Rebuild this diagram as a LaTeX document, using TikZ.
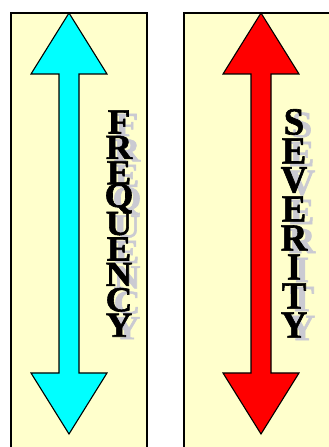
\documentclass[tikz,border=0pt]{standalone}
\usepackage{fontspec}
\setmainfont{Liberation Serif}[BoldFeatures={FakeBold=1.6}]
\usetikzlibrary{positioning}
\definecolor{panelyellow}{HTML}{FFFFCC}
\definecolor{shadowgray}{HTML}{CACAD2}
\definecolor{aqua}{HTML}{00FFFF}
\definecolor{brightred}{HTML}{FF0000}

\begin{document}
\begin{tikzpicture}[x=1pt, y=1pt,
    panel/.style={draw=black, line width=1.2pt, fill=panelyellow},
    shaft/.style={draw=black, line width=1.1pt, line join=miter},
    letter/.style={font=\fontsize{32}{32}\selectfont\bfseries, inner sep=0pt, xscale=1.15},
    shade/.style={letter, text=shadowgray}]
  \useasboundingbox (0,0) rectangle (329,447);
  \clip (0,0) rectangle (329,447);
  \path[panel] (11,434) rectangle (147,-5);
  \path[panel] (184,434) rectangle (340,-5);
  % double arrows
  \foreach \cx/\col in {69/aqua, 261/brightred}
    \draw[shaft, fill=\col] (\cx,434) -- (\cx+38,373) -- (\cx+10,373) -- (\cx+10,74)
      -- (\cx+38,74) -- (\cx,13) -- (\cx-38,74) -- (\cx-10,74) -- (\cx-10,373)
      -- (\cx-38,373) -- cycle;
  % stacked words
  \foreach \ch [count=\i from 0] in {F,R,E,Q,U,E,N,C,Y} {
    \node[shade, yscale=1.05] (fs\i) at (127,322-25.4*\i) {\ch};
    \node[letter, yscale=1.1] (f\i) at (119,325-25.4*\i) {\ch};
  }
  \foreach \ch [count=\i from 0] in {S,E,V,E,R,I,T,Y} {
    \node[shade, yscale=1.15] (ss\i) at (302,322-29*\i) {\ch};
    \node[letter, yscale=1.2] (s\i) at (294,325-29*\i) {\ch};
  }
\end{tikzpicture}
\end{document}
